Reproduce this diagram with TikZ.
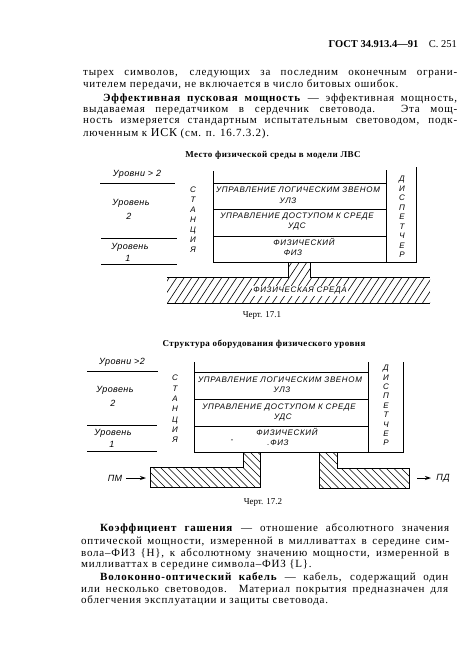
\documentclass[tikz,border=0pt]{standalone}
\usepackage{fontspec}
\setmainfont{Liberation Serif}
\newfontfamily\tech{Liberation Sans}[LetterSpace=8]
\newfontfamily\techwide{Liberation Sans}[LetterSpace=4]
\usetikzlibrary{arrows.meta}
\begin{document}
\begin{tikzpicture}[x=1pt,y=-1pt,
  body/.style={anchor=base west,inner sep=0pt,font=\fontsize{11}{12}\selectfont\addfontfeature{LetterSpace=7}},
  hdr/.style={anchor=base east,inner sep=0pt,font=\fontsize{10.5}{12}\selectfont},
  ttl/.style={inner sep=0pt,font=\bfseries\fontsize{9}{10}\selectfont\addfontfeature{LetterSpace=5}},
  captxt/.style={inner sep=0pt,font=\fontsize{9}{10}\selectfont},
  lbl/.style={inner sep=0pt,font=\tech\itshape\fontsize{8}{9}\selectfont},
  lvl/.style={inner sep=0pt,font=\techwide\itshape\fontsize{9}{10}\selectfont},
  vert/.style={inner sep=0pt,align=center,font=\tech\itshape\fontsize{8}{#1}\selectfont},
  ln/.style={line width=0.9pt},
  hatch/.style={line width=0.6pt},
  arr/.style={line width=0.9pt,-{Stealth[length=6pt,width=4pt]}}]
\useasboundingbox (0,0) rectangle (466,661);
\fill[white] (0,0) rectangle (466,661);

% header
\node[hdr] (hdr) at (457,48) {\textbf{ГОСТ 34.913.4—91}\quad С. 251};

% top text
\node[body] (t1) at (83,75) {\makebox[374pt][s]{тырех символов, следующих за последним оконечным ограни-}};
\node[body] (t2) at (83,88) {чителем передачи, не включается в число битовых ошибок.};
\node[body] (t3) at (103,101) {\makebox[354pt][s]{\textbf{Эффективная пусковая мощность} — эффективная мощность,}};
\node[body] (t4) at (83,112) {\makebox[374pt][s]{выдаваемая передатчиком в сердечник световода. Эта мощ-}};
\node[body] (t5) at (83,123) {\makebox[374pt][s]{ность измеряется стандартным испытательным световодом, подк-}};
\node[body] (t6) at (83,136) {люченным к {\large ИСК} (см. п. 16.7.3.2).};

% ---------- figure 17.1 ----------
\node[ttl] (title1) at (273,155) {Место физической среды в модели ЛВС};
\node[lvl] (a1) at (137,174) {Уровни > 2};
\node[lvl] (a2) at (131,203) {Уровень};
\node[lvl] (a3) at (129,216) {2};
\node[lvl] (a4) at (130,247) {Уровень};
\node[lvl] (a5) at (128,258) {1};
\draw[ln] (100,183) -- (175,183);
\draw[ln] (101,238) -- (177,238);
\draw[ln] (101,264) -- (177,264);
\node[vert=10] (st1) at (193,220) {С\\Т\\А\\Н\\Ц\\И\\Я};
\node[vert=9.5] (ds1) at (402,217) {Д\\И\\С\\П\\Е\\Т\\Ч\\Е\\Р};
% box
\draw[ln] (213,171) -- (213,262) -- (416,262) -- (416,167);
\draw[ln] (386,170) -- (386,262);
\draw[ln] (213,183) -- (386,183);
\draw[ln] (213,209) -- (386,209);
\draw[ln] (213,236) -- (386,236);
\node[lbl] (b1) at (298,190) {УПРАВЛЕНИЕ ЛОГИЧЕСКИМ ЗВЕНОМ};
\node[lbl] (b2) at (288,201) {УЛЗ};
\node[lbl] (b3) at (297,217) {УПРАВЛЕНИЕ ДОСТУПОМ К СРЕДЕ};
\node[lbl] (b4) at (297,227) {УДС};
\node[lbl] (b5) at (304,242) {ФИЗИЧЕСКИЙ};
\node[lbl] (b6) at (293,253) {ФИЗ};
% medium
\begin{scope}
\clip (167,277) -- (288,277) -- (288,262) -- (310,262) -- (310,277) -- (430,277) -- (430,303) -- (167,303) -- cycle;
\foreach \x in {130,137.5,...,440} \draw[hatch] (\x,303) -- (\x+27,262);
\end{scope}
\draw[ln] (167,277) -- (288,277) -- (288,262);
\draw[ln] (310,262) -- (310,277) -- (430,277);
\draw[ln] (167,303) -- (430,303);
\node[lbl,fill=white,inner sep=1pt] (med) at (300,291) {ФИЗИЧЕСКАЯ СРЕДА};
\node[captxt] (c1) at (262,315) {Черт. 17.1};

% ---------- figure 17.2 ----------
\node[ttl] (title2) at (264,344) {Структура оборудования физического уровня};
\node[lvl] (d1) at (122,362) {Уровни >2};
\node[lvl] (d2) at (115,390) {Уровень};
\node[lvl] (d3) at (113,403) {2};
\node[lvl] (d4) at (113,433) {Уровень};
\node[lvl] (d5) at (112,444) {1};
\draw[ln] (87,371) -- (158,371);
\draw[ln] (87,425) -- (157,425);
\draw[ln] (87,451) -- (157,451);
\node[vert=10.3] (st2) at (175,409) {С\\Т\\А\\Н\\Ц\\И\\Я};
\node[vert=9.4] (ds2) at (386,405.5) {Д\\И\\С\\П\\Е\\Т\\Ч\\Е\\Р};
\draw[ln] (194,362) -- (194,452) -- (403,452) -- (403,362);
\draw[ln] (368,362) -- (368,452);
\draw[ln] (194,372) -- (368,372);
\draw[ln] (194,399) -- (368,399);
\draw[ln] (194,426) -- (368,426);
\node[lbl] (e1) at (280,380) {УПРАВЛЕНИЕ ЛОГИЧЕСКИМ ЗВЕНОМ};
\node[lbl] (e2) at (282,390) {УЛЗ};
\node[lbl] (e3) at (279,407) {УПРАВЛЕНИЕ ДОСТУПОМ К СРЕДЕ};
\node[lbl] (e4) at (283,417) {УДС};
\node[lbl] (e5) at (287,432) {ФИЗИЧЕСКИЙ};
\node[lbl] (e6) at (278,443) {.ФИЗ};
\node[lbl] (e7) at (232,441) {-};
% pipes
\begin{scope}
\clip (150,467) -- (243,467) -- (243,452) -- (260,452) -- (260,487) -- (150,487) -- cycle;
\foreach \x in {100,107.5,...,270} \draw[hatch] (\x,452) -- (\x+35,487);
\end{scope}
\draw[ln] (150,467) -- (243,467) -- (243,452) -- (260,452) -- (260,487) -- (150,487) -- cycle;
\begin{scope}
\clip (319,452) -- (337,452) -- (337,468) -- (409,468) -- (409,488) -- (319,488) -- cycle;
\foreach \x in {280,287.5,...,420} \draw[hatch] (\x,452) -- (\x+36,488);
\end{scope}
\draw[ln] (319,452) -- (337,452) -- (337,468) -- (409,468) -- (409,488) -- (319,488) -- cycle;
\node[lvl] (pm) at (115,478) {ПМ};
\node[lvl] (pd) at (443,478) {ПД};
\coordinate (pmin) at (146,478);
\coordinate (pdout) at (431,478);
\draw[arr] (pm.east) ++(4,0) -- (pmin);
\draw[arr] (pd.west) ++(-19,0) -- (pdout);
\node[captxt] (c2) at (263,502) {Черт. 17.2};

% bottom text
\node[body] (u1) at (100,531) {\makebox[349pt][s]{\textbf{Коэффициент гашения} — отношение абсолютного значения}};
\node[body] (u2) at (81,544) {\makebox[368pt][s]{оптической мощности, измеренной в милливаттах в середине сим-}};
\node[body] (u3) at (81,556) {\makebox[368pt][s]{вола–ФИЗ \{Н\}, к абсолютному значению мощности, измеренной в}};
\node[body] (u4) at (81,567) {милливаттах в середине символа–ФИЗ \{L\}.};
\node[body] (u5) at (100,580) {\makebox[348pt][s]{\textbf{Волоконно-оптический кабель} — кабель, содержащий один}};
\node[body] (u6) at (81,592) {\makebox[367pt][s]{или несколько световодов. Материал покрытия предназначен для}};
\node[body] (u7) at (81,603) {облегчения эксплуатации и защиты световода.};
\end{tikzpicture}
\end{document}
